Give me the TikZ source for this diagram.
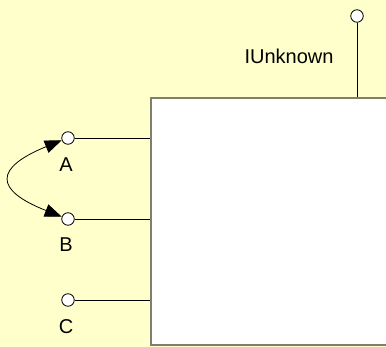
\documentclass[tikz,border=0pt]{standalone}
\usepackage{fontspec}
\setmainfont{Liberation Sans}
\usetikzlibrary{arrows.meta}
\definecolor{bgyellow}{HTML}{FFFFCC}
\definecolor{boxedge}{HTML}{7F7F70}
\begin{document}
\begin{tikzpicture}[x=1pt,y=-1pt,
  port/.style={circle,draw=black,fill=white,line width=0.8pt,minimum size=12.5pt,inner sep=0pt},
  lbl/.style={font=\fontsize{20}{24}\selectfont,inner sep=0pt},
  wire/.style={draw=black,line width=0.8pt},
  bigbox/.style={draw=boxedge,fill=white,line width=2pt,rectangle,inner sep=0pt,anchor=north west,minimum width=260pt,minimum height=247pt}]
\fill[bgyellow] (0,0) rectangle (386,347);
\useasboundingbox (0,0) rectangle (386,347);
\begin{scope}
\clip (0,0) rectangle (386,347);
\node[bigbox] (box) at (150,97) {};
\end{scope}
\node[port] (pt) at (357,16) {};
\draw[wire] (pt.south) -- (pt.south |- box.north);
\node[lbl] (iu) at (289,56) {IUnknown};
\node[port] (pa) at (68,138) {};
\node[port] (pb) at (68,219) {};
\node[port] (pc) at (68,300) {};
\draw[wire] (pa.east) -- (pa.east -| box.west);
\draw[wire] (pb.east) -- (pb.east -| box.west);
\draw[wire] (pc.east) -- (pc.east -| box.west);
\node[lbl] (la) at (66,165) {A};
\node[lbl] (lb) at (66,245) {B};
\node[lbl] (lc) at (66,327) {C};
\draw[line width=0.8pt,{Triangle[length=17pt,width=13pt]}-{Triangle[length=17pt,width=13pt]}]
  (pa.200) .. controls (-6,168) and (-6,190) .. (pb.160);
\end{tikzpicture}
\end{document}
